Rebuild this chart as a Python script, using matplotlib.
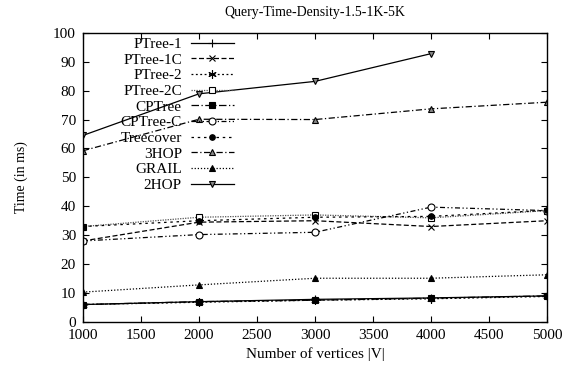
import numpy as np
import matplotlib
matplotlib.use("Agg")
import matplotlib.pyplot as plt

plt.rcParams['font.family'] = ['Liberation Serif', 'DejaVu Serif']

vertices = [1000, 2000, 3000, 4000, 5000]

ptree_1 = [6.0, 7.0, 7.8, 8.3, 9.0]
ptree_1c = [28.0, 34.5, 35.0, 33.0, 35.0]
ptree_2 = [6.0, 6.8, 7.5, 8.0, 8.8]
ptree_2c = [33.0, 36.2, 37.0, 36.0, 38.5]
cptree = [6.0, 7.0, 7.5, 8.2, 9.0]
cptree_c = [28.0, 30.2, 31.0, 39.7, 38.5]
treecover = [33.0, 35.0, 36.2, 36.5, 38.6]
hop3 = [59.2, 70.1, 70.0, 73.7, 76.0]
grail = [10.3, 12.8, 15.1, 15.1, 16.3]
hop2 = [64.5, 78.9, 83.2, 92.8, np.nan]

series = [
    ("PTree-1", ptree_1, dict(ls='-', marker='+', ms=6, color='black')),
    ("PTree-1C", ptree_1c, dict(ls=(0, (4, 2)), marker='x', ms=5, color='black')),
    ("PTree-2", ptree_2, dict(ls=(0, (1.5, 2)), marker=(6, 2, 0), ms=6, color='black')),
    ("PTree-2C", ptree_2c, dict(ls=(0, (1, 1)), marker='s', ms=5, mfc='white', color='#555555', mec='black')),
    ("CPTree", cptree, dict(ls=(0, (6, 2, 1, 2)), marker='s', ms=5, color='black')),
    ("CPTree-C", cptree_c, dict(ls=(0, (4, 2, 1, 2, 1, 2)), marker='o', ms=5, mfc='white', color='black')),
    ("Treecover", treecover, dict(ls=(0, (2, 3)), marker='o', ms=4, color='black')),
    ("3HOP", hop3, dict(ls=(0, (5, 2, 1, 2)), marker='^', ms=5, mfc='#888888', color='black')),
    ("GRAIL", grail, dict(ls=(0, (1, 1.5)), marker='^', ms=4, color='black')),
    ("2HOP", hop2, dict(ls='-', marker='v', ms=5, mfc='#888888', color='black')),
]

fig = plt.figure(figsize=(5.64, 3.73), dpi=100)
ax = fig.add_axes([0.147, 0.137, 0.823, 0.775])

for name, vals, style in series:
    ax.plot(vertices, vals, label=name, lw=0.9, mew=0.8, **style)

ax.set_xlim(1000, 5000)
ax.set_ylim(0, 100)
ax.set_xticks(np.arange(1000, 5001, 500))
ax.set_yticks(np.arange(0, 101, 10))
ax.tick_params(direction='in', top=True, right=True, length=4, width=0.8,
               labelsize=11, pad=5)
for sp in ax.spines.values():
    sp.set_linewidth(1.0)

ax.set_title("Query-Time-Density-1.5-1K-5K", fontsize=10, pad=12)
ax.set_xlabel("Number of vertices |V|", fontsize=11, labelpad=4)
ax.set_ylabel("Time (in ms)", fontsize=10, labelpad=18)

ax.legend(loc='upper right', bbox_to_anchor=(0.325, 0.985), frameon=False,
          markerfirst=False, fontsize=11, handlelength=2.8,
          handletextpad=0.6, labelspacing=0.13, borderaxespad=0.0,
          borderpad=0.0)

fig.savefig("out.png", dpi=100)
